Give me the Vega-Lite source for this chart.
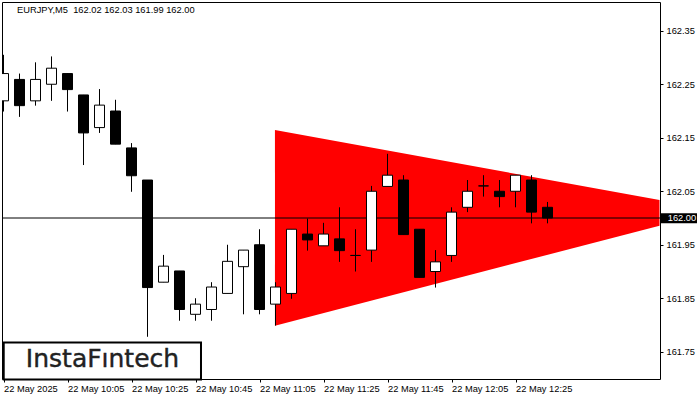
{
  "$schema": "https://vega.github.io/schema/vega-lite/v6.json",
  "width": 658,
  "height": 377,
  "autosize": {"type": "none"},
  "padding": {"left": 2, "top": 2, "right": 40, "bottom": 21},
  "background": "white",
  "config": {
    "view": {"stroke": "black", "strokeWidth": 1, "fill": "white"},
    "font": "Liberation Sans"
  },
  "title": {
    "text": "EURJPY,M5\u00a0 162.02 162.03 161.99 162.00",
    "anchor": "start",
    "frame": "group",
    "offset": -13.5,
    "dx": 15,
    "fontSize": 9.3,
    "fontWeight": "normal",
    "font": "Liberation Sans",
    "color": "black"
  },
  "datasets": {
    "candles": [
      {"t": "2025-05-22T09:45:00Z", "o": 162.219, "h": 162.305, "l": 162.199, "c": 162.270},
      {"t": "2025-05-22T09:50:00Z", "o": 162.259, "h": 162.270, "l": 162.189, "c": 162.210},
      {"t": "2025-05-22T09:55:00Z", "o": 162.219, "h": 162.291, "l": 162.210, "c": 162.259},
      {"t": "2025-05-22T10:00:00Z", "o": 162.250, "h": 162.302, "l": 162.219, "c": 162.280},
      {"t": "2025-05-22T10:05:00Z", "o": 162.270, "h": 162.270, "l": 162.199, "c": 162.240},
      {"t": "2025-05-22T10:10:00Z", "o": 162.230, "h": 162.230, "l": 162.099, "c": 162.159},
      {"t": "2025-05-22T10:15:00Z", "o": 162.169, "h": 162.241, "l": 162.159, "c": 162.211},
      {"t": "2025-05-22T10:20:00Z", "o": 162.200, "h": 162.221, "l": 162.138, "c": 162.138},
      {"t": "2025-05-22T10:25:00Z", "o": 162.131, "h": 162.140, "l": 162.049, "c": 162.079},
      {"t": "2025-05-22T10:30:00Z", "o": 162.071, "h": 162.071, "l": 161.778, "c": 161.870},
      {"t": "2025-05-22T10:35:00Z", "o": 161.880, "h": 161.931, "l": 161.880, "c": 161.910},
      {"t": "2025-05-22T10:40:00Z", "o": 161.901, "h": 161.901, "l": 161.808, "c": 161.829},
      {"t": "2025-05-22T10:45:00Z", "o": 161.820, "h": 161.850, "l": 161.808, "c": 161.839},
      {"t": "2025-05-22T10:50:00Z", "o": 161.829, "h": 161.880, "l": 161.808, "c": 161.871},
      {"t": "2025-05-22T10:55:00Z", "o": 161.859, "h": 161.950, "l": 161.859, "c": 161.919},
      {"t": "2025-05-22T11:00:00Z", "o": 161.909, "h": 161.940, "l": 161.820, "c": 161.940},
      {"t": "2025-05-22T11:05:00Z", "o": 161.950, "h": 161.979, "l": 161.820, "c": 161.829},
      {"t": "2025-05-22T11:10:00Z", "o": 161.839, "h": 161.880, "l": 161.799, "c": 161.871},
      {"t": "2025-05-22T11:15:00Z", "o": 161.859, "h": 161.979, "l": 161.849, "c": 161.979},
      {"t": "2025-05-22T11:20:00Z", "o": 161.970, "h": 161.999, "l": 161.939, "c": 161.959},
      {"t": "2025-05-22T11:25:00Z", "o": 161.948, "h": 161.991, "l": 161.948, "c": 161.970},
      {"t": "2025-05-22T11:30:00Z", "o": 161.961, "h": 162.020, "l": 161.918, "c": 161.939},
      {"t": "2025-05-22T11:35:00Z", "o": 161.930, "h": 161.979, "l": 161.900, "c": 161.930},
      {"t": "2025-05-22T11:40:00Z", "o": 161.940, "h": 162.060, "l": 161.918, "c": 162.050},
      {"t": "2025-05-22T11:45:00Z", "o": 162.059, "h": 162.120, "l": 162.059, "c": 162.080},
      {"t": "2025-05-22T11:50:00Z", "o": 162.071, "h": 162.080, "l": 161.969, "c": 161.969},
      {"t": "2025-05-22T11:55:00Z", "o": 161.979, "h": 161.979, "l": 161.889, "c": 161.889},
      {"t": "2025-05-22T12:00:00Z", "o": 161.900, "h": 161.940, "l": 161.870, "c": 161.918},
      {"t": "2025-05-22T12:05:00Z", "o": 161.930, "h": 162.020, "l": 161.918, "c": 162.011},
      {"t": "2025-05-22T12:10:00Z", "o": 162.020, "h": 162.071, "l": 162.011, "c": 162.050},
      {"t": "2025-05-22T12:15:00Z", "o": 162.060, "h": 162.080, "l": 162.040, "c": 162.060},
      {"t": "2025-05-22T12:20:00Z", "o": 162.050, "h": 162.071, "l": 162.020, "c": 162.040},
      {"t": "2025-05-22T12:25:00Z", "o": 162.050, "h": 162.080, "l": 162.020, "c": 162.080},
      {"t": "2025-05-22T12:30:00Z", "o": 162.071, "h": 162.080, "l": 161.990, "c": 162.011},
      {"t": "2025-05-22T12:35:00Z", "o": 162.020, "h": 162.030, "l": 161.990, "c": 162.000}
    ],
    "pattern": [
      {"t": "2025-05-22T11:09:50Z", "top": 162.1645, "bot": 161.7987},
      {"t": "2025-05-22T13:10:00Z", "top": 162.0336, "bot": 161.9856}
    ]
  },
  "layer": [
    {
      "data": {"name": "pattern"},
      "mark": {"type": "area", "color": "#ff0000", "clip": true, "opacity": 1},
      "encoding": {
        "x": {
          "field": "t", "type": "temporal",
          "scale": {"type": "utc", "domain": [1747907071875, 1747919409375], "padding": 0, "nice": false},
          "axis": {
            "values": [1747907100000, 1747908300000, 1747909500000, 1747910700000, 1747911900000, 1747913100000, 1747914300000, 1747915500000, 1747916700000],
            "labelExpr": "utcFormat(datum.value, '%H:%M') == '09:45' ? '22 May 2025' : utcFormat(datum.value, '%d %b %H:%M')",
            "labelAlign": "left",
            "labelBaseline": "top",
            "labelPadding": 2,
            "labelFontSize": 9.3,
            "labelFont": "Liberation Sans",
            "labelColor": "black",
            "labelFlush": false,
            "labelOverlap": false,
            "labelBound": false,
            "tickSize": 3,
            "tickColor": "black",
            "domain": false,
            "grid": false,
            "title": null
          }
        },
        "y": {
          "field": "top", "type": "quantitative",
          "scale": {"domain": [161.69907, 162.40374], "nice": false, "zero": false, "padding": 0},
          "axis": {
            "orient": "right",
            "values": [161.75, 161.85, 161.95, 162.05, 162.15, 162.25, 162.35],
            "format": ".2f",
            "labelFontSize": 9.3,
            "labelFont": "Liberation Sans",
            "labelColor": "black",
            "labelPadding": 3,
            "tickSize": 3,
            "tickColor": "black",
            "domain": false,
            "grid": false,
            "title": null
          }
        },
        "y2": {"field": "bot"}
      }
    },
    {
      "data": {"values": [{}]},
      "mark": {"type": "rule", "color": "black", "strokeWidth": 1},
      "encoding": {"y": {"datum": 162.0, "type": "quantitative"}}
    },
    {
      "data": {"name": "candles"},
      "mark": {"type": "rule", "color": "black", "strokeWidth": 1, "clip": true},
      "encoding": {
        "x": {"field": "t", "type": "temporal"},
        "y": {"field": "l", "type": "quantitative"},
        "y2": {"field": "h"}
      }
    },
    {
      "data": {"name": "candles"},
      "mark": {"type": "bar", "size": 10, "stroke": "black", "strokeWidth": 1, "clip": true, "orient": "vertical"},
      "encoding": {
        "x": {"field": "t", "type": "temporal"},
        "y": {"field": "o", "type": "quantitative"},
        "y2": {"field": "c"},
        "fill": {"condition": {"test": "datum.c >= datum.o", "value": "white"}, "value": "black"}
      }
    },
    {
      "data": {"values": [{}]},
      "mark": {"type": "rect", "color": "black", "clip": false},
      "encoding": {
        "x": {"datum": {"year": 2025, "month": 5, "date": 22, "hours": 13, "minutes": 10, "seconds": 28, "utc": true}, "type": "temporal"},
        "x2": {"datum": {"year": 2025, "month": 5, "date": 22, "hours": 13, "minutes": 21, "seconds": 43, "utc": true}},
        "y": {"datum": 161.9901, "type": "quantitative"},
        "y2": {"datum": 162.0087}
      }
    },
    {
      "data": {"values": [{}]},
      "mark": {"type": "text", "text": "162.00", "color": "white", "align": "left", "baseline": "middle", "fontSize": 9.3, "font": "Liberation Sans", "clip": false},
      "encoding": {
        "x": {"datum": {"year": 2025, "month": 5, "date": 22, "hours": 13, "minutes": 12, "seconds": 34, "utc": true}, "type": "temporal"},
        "y": {"datum": 162.0, "type": "quantitative"}
      }
    },
    {
      "data": {"values": [{}]},
      "mark": {"type": "rect", "fill": "white", "stroke": "black", "strokeWidth": 2, "clip": false},
      "encoding": {
        "x": {"datum": {"year": 2025, "month": 5, "date": 22, "hours": 9, "minutes": 45, "seconds": 4, "utc": true}, "type": "temporal"},
        "x2": {"datum": {"year": 2025, "month": 5, "date": 22, "hours": 10, "minutes": 46, "seconds": 43, "utc": true}},
        "y": {"datum": 161.6981, "type": "quantitative"},
        "y2": {"datum": 161.7673}
      }
    },
    {
      "data": {"values": [{}]},
      "mark": {"type": "text", "text": "InstaFıntech", "color": "#222222", "align": "center", "baseline": "alphabetic", "fontSize": 25, "font": "DejaVu Sans", "fontWeight": "normal", "stroke": "#222222", "strokeWidth": 0.4, "clip": false},
      "encoding": {
        "x": {"datum": {"year": 2025, "month": 5, "date": 22, "hours": 10, "minutes": 15, "seconds": 56, "utc": true}, "type": "temporal"},
        "y": {"datum": 161.7221, "type": "quantitative"}
      }
    }
  ]
}
